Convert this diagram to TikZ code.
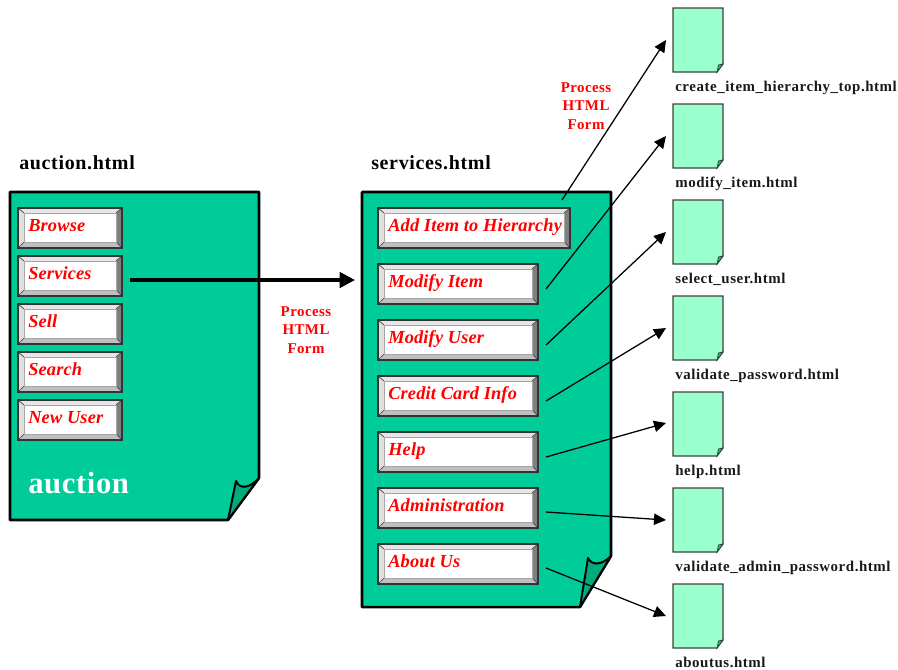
\documentclass[tikz,border=0pt]{standalone}
\usepackage{fontspec}
\setmainfont{Liberation Serif}
\usetikzlibrary{arrows.meta,calc}
\definecolor{pagegreen}{HTML}{00CC99}
\definecolor{folddark}{HTML}{00AA7F}
\definecolor{paleg}{HTML}{99FFCC}
\definecolor{txred}{HTML}{FF0000}
\tikzset{
  x=0.75pt,y=-0.75pt,
  bigpage/.style={draw=black,line width=1.9pt,fill=pagegreen,line join=round},
  bigfold/.style={draw=black,line width=1.5pt,fill=folddark,line join=round},
  smallpage/.style={draw=black!75,line width=0.9pt,fill=paleg},
  smallfold/.style={draw=black!75,line width=0.6pt,fill=pagegreen},
  btntext/.style={font=\bfseries\itshape\fontsize{13.8pt}{15pt}\selectfont\addfontfeatures{LetterSpace=0.8},text=txred,anchor=base west,inner sep=0pt},
  flabel/.style={font=\bfseries\fontsize{11.2pt}{12pt}\selectfont\addfontfeatures{LetterSpace=3.7},text=black!90,anchor=base west,inner sep=0pt},
  htitle/.style={font=\bfseries\fontsize{15pt}{16pt}\selectfont\addfontfeatures{LetterSpace=3.3},text=black,anchor=west,inner sep=0pt},
  redlabel/.style={font=\bfseries\fontsize{11.2pt}{13.9pt}\selectfont\addfontfeatures{LetterSpace=3},text=txred,align=center,inner sep=0pt},
  link/.style={draw=black,line width=0.95pt,-{Triangle[length=9pt,width=8.5pt]}},
  mainlink/.style={draw=black,line width=2.6pt,-{Triangle[length=11.5pt,width=11.5pt]}},
}
% name, x1, y1, x2, y2, text
\newcommand{\btn}[6]{%
  \fill[black!10] (#2,#3) -- (#4,#3) -- (#4-6,#3+5) -- (#2+6,#3+5) -- cycle;
  \fill[black!12] (#2,#3) -- (#2,#5) -- (#2+6,#5-6) -- (#2+6,#3+5) -- cycle;
  \fill[black!50] (#4,#3) -- (#4,#5) -- (#4-6,#5-6) -- (#4-6,#3+5) -- cycle;
  \fill[black!25] (#2,#5) -- (#4,#5) -- (#4-6,#5-6) -- (#2+6,#5-6) -- cycle;
  \draw[black!75,line width=0.5pt] (#2,#3) -- (#2+6,#3+5) (#4,#3) -- (#4-6,#3+5) (#2,#5) -- (#2+6,#5-6) (#4,#5) -- (#4-6,#5-6);
  \fill[white] (#2+6,#3+5) rectangle (#4-6,#5-6);
  \draw[black!35,line width=0.4pt] (#2+6,#3+5) rectangle (#4-6,#5-6);
  \draw[black!80,line width=0.9pt] (#2,#3) rectangle (#4,#5);
  \node[btntext] (#1) at (#2+10,#3+23) {#6};
}
% name, top y, label
\newcommand{\smallp}[3]{%
  \path[smallpage] (673,#2) -- (723,#2) -- (723,#2+56) -- (717,#2+64) -- (673,#2+64) -- cycle;
  \path[smallfold] (717,#2+64) -- (718.5,#2+57) -- (723,#2+56) -- cycle;
  \coordinate (#1) at (666,#2+32);
  \node[flabel] (#1t) at (675,#2+83.5) {#3};
}
\begin{document}
\begin{tikzpicture}
\useasboundingbox (0,0) rectangle (898,669);
% left page
\path[bigpage] (10,192) -- (259,192) -- (259,478) -- (228,520) -- (10,520) -- cycle;
\path[bigfold] (228,520) -- (236,481) .. controls (240,490) and (250,488) .. (259,478) -- cycle;
% right page
\path[bigpage] (362,192) -- (611,192) -- (611,556) -- (580,607) -- (362,607) -- cycle;
\path[bigfold] (580,607) -- (588,558) .. controls (592,566) and (602,565) .. (611,556) -- cycle;
% titles
\node[htitle] (t1) at (19,163) {auction.html};
\node[htitle] (t2) at (371,163) {services.html};
\node[font=\bfseries\fontsize{23pt}{25pt}\selectfont\addfontfeatures{LetterSpace=2},text=white,anchor=west,inner sep=0pt] (auc) at (28,483) {auction};
% left buttons
\btn{b1}{18}{208}{122}{248}{Browse}
\btn{b2}{18}{256}{122}{296}{Services}
\btn{b3}{18}{304}{122}{344}{Sell}
\btn{b4}{18}{352}{122}{392}{Search}
\btn{b5}{18}{400}{122}{440}{New User}
% right buttons
\btn{r1}{378}{208}{570}{248}{Add Item to Hierarchy}
\btn{r2}{378}{264}{538}{304}{Modify Item}
\btn{r3}{378}{320}{538}{360}{Modify User}
\btn{r4}{378}{376}{538}{416}{Credit Card Info}
\btn{r5}{378}{432}{538}{472}{Help}
\btn{r6}{378}{488}{538}{528}{Administration}
\btn{r7}{378}{544}{538}{584}{About Us}
% small pages
\smallp{p1}{8}{create\_item\_hierarchy\_top.html}
\smallp{p2}{104}{modify\_item.html}
\smallp{p3}{200}{select\_user.html}
\smallp{p4}{296}{validate\_password.html}
\smallp{p5}{392}{help.html}
\smallp{p6}{488}{validate\_admin\_password.html}
\smallp{p7}{584}{aboutus.html}
% red labels
\node[redlabel] (f1) at (586,106) {Process\\HTML\\Form};
\node[redlabel] (f2) at (306,330) {Process\\HTML\\Form};
% connector ends
\coordinate (s0) at (130,280);
\coordinate (e0) at (355,280);
\coordinate (s1) at (562,200);
\coordinate (s2) at (546,289);
\coordinate (s3) at (546,345);
\coordinate (s4) at (546,401);
\coordinate (s5) at (546,457);
\coordinate (s6) at (546,512);
\coordinate (s7) at (546,568);
\draw[mainlink] (s0) -- (e0);
\draw[link] (s1) -- (p1);
\draw[link] (s2) -- (p2);
\draw[link] (s3) -- (p3);
\draw[link] (s4) -- (p4);
\draw[link] (s5) -- ($(p5)+(0,-1)$);
\draw[link] (s6) -- (p6);
\draw[link] (s7) -- (p7);
\end{tikzpicture}
\end{document}
